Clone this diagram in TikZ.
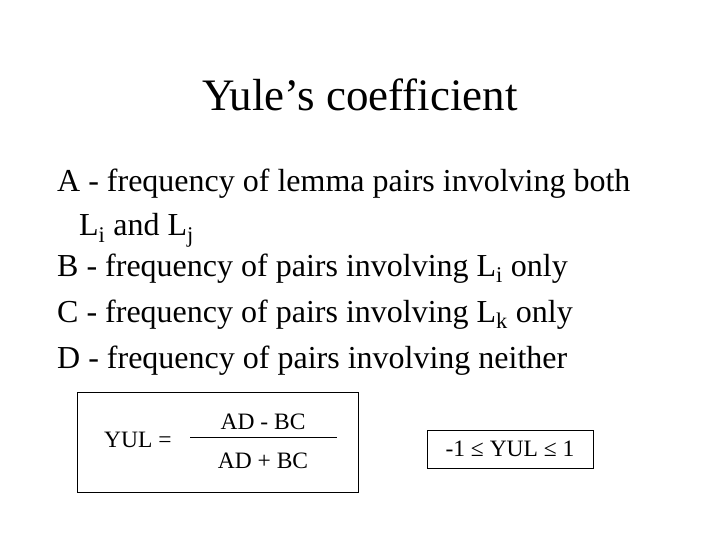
\documentclass[tikz,border=0pt]{standalone}
\usepackage{fontspec}
\setmainfont{Liberation Serif}
\begin{document}
\begin{tikzpicture}[x=1pt,y=-1pt,
  body/.style={anchor=base west,inner sep=0pt,font=\fontsize{32}{36}\selectfont},
  small/.style={inner sep=0pt,font=\fontsize{23.5}{26}\selectfont}]
\path[use as bounding box,fill=white] (0,0) rectangle (720,540);
\node[anchor=base,inner sep=0pt,font=\fontsize{45}{50}\selectfont] (title) at (360,111) {Yule’s coefficient};
\node[body] (l1) at (57,192) {A - frequency of lemma pairs involving both};
\node[body] (l2) at (79,236) {L\textsubscript{i} and L\textsubscript{j}};
\node[body] (l3) at (57,276) {B - frequency of pairs involving L\textsubscript{i} only};
\node[body] (l4) at (57,322) {C - frequency of pairs involving L\textsubscript{k} only};
\node[body] (l5) at (57,368) {D - frequency of pairs involving neither};
\draw[line width=0.8pt] (77,392) rectangle (358,492);
\node[small,anchor=base west] (yul) at (104,447) {YUL =};
\node[small,anchor=base] (num) at (263,429) {AD - BC};
\node[small,anchor=base] (den) at (263,468) {AD + BC};
\draw[line width=0.8pt] (190,437) -- (337,437);
\node[small,draw,line width=0.8pt,inner sep=0pt,minimum height=38pt,minimum width=166pt] (rng) at (510,449) {-1 ≤ YUL ≤ 1};
\end{tikzpicture}
\end{document}
